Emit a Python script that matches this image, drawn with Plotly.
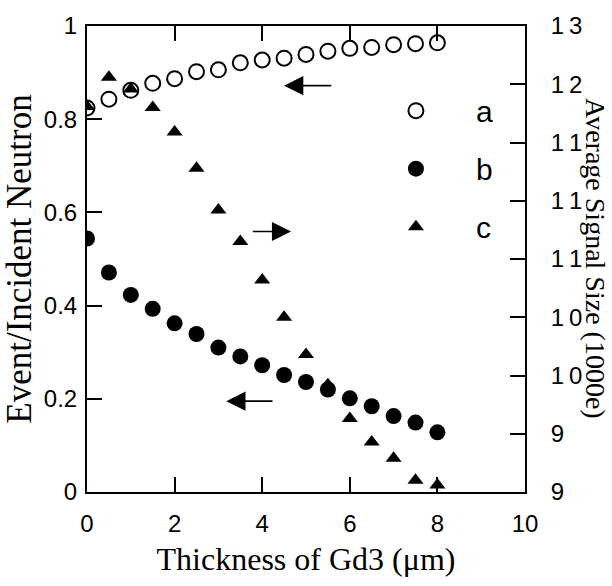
import plotly.graph_objects as go

# Film thickness (um), shared by all three series
thickness = [0, 0.5, 1, 1.5, 2, 2.5, 3, 3.5, 4, 4.5, 5, 5.5, 6, 6.5, 7, 7.5, 8]

# a: event / incident neutron (left axis)
series_a = [0.824, 0.843, 0.862, 0.877, 0.887, 0.902, 0.906, 0.921, 0.927,
            0.931, 0.939, 0.946, 0.952, 0.954, 0.960, 0.962, 0.964]
# b: event / incident neutron (left axis)
series_b = [0.544, 0.471, 0.423, 0.393, 0.362, 0.339, 0.310, 0.291, 0.272,
            0.251, 0.236, 0.220, 0.201, 0.184, 0.163, 0.149, 0.128]
# c: average signal size, 1000e (right axis)
series_c = [12.31, 12.56, 12.46, 12.30, 12.09, 11.78, 11.42, 11.15, 10.82,
            10.50, 10.18, 9.92, 9.63, 9.43, 9.29, 9.10, 9.06]

x_ticks = [0, 2, 4, 6, 8, 10]
left_ticks = [0, 0.2, 0.4, 0.6, 0.8, 1]
left_labels = ["0", "0.2", "0.4", "0.6", "0.8", "1"]
right_ticks = [9, 9.5, 10, 10.5, 11, 11.5, 12, 12.5, 13]
right_labels = ["9", "9", "1\u20090", "1\u20090", "1\u20091", "1\u20091", "1\u20091", "1\u20092", "1\u20093"]

sans = "Liberation Sans, Arial, sans-serif"
serif = "Liberation Serif, Times New Roman, serif"

fig = go.Figure()
fig.add_trace(go.Scatter(
    x=thickness, y=series_a, mode="markers", name="a", legendgroup="a",
    marker=dict(symbol="circle-open", size=15, color="black", line=dict(width=2)),
))
fig.add_trace(go.Scatter(
    x=thickness, y=series_b, mode="markers", name="b", legendgroup="b",
    marker=dict(symbol="circle", size=16, color="black"),
))
fig.add_trace(go.Scatter(
    x=thickness, y=series_c, mode="markers", name="c", legendgroup="c", yaxis="y2",
    marker=dict(symbol="triangle-up", size=14, color="black"),
))

axis_common = dict(showgrid=False, zeroline=False, showline=True, linecolor="black",
                   linewidth=2, ticks="inside", ticklen=15, tickwidth=1.5,
                   tickcolor="black", tickfont=dict(family=sans, size=24, color="black"))

fig.update_layout(
    width=612, height=586,
    margin=dict(l=85, r=87, t=15, b=94),
    paper_bgcolor="white", plot_bgcolor="white",
    xaxis=dict(range=[0, 10], tickvals=x_ticks, ticktext=[str(v) for v in x_ticks],
               mirror="ticks", ticklabelstandoff=9,
               title=dict(text="Thickness of Gd3 (\u03bcm)", font=dict(family=serif, size=32, color="black"),
                          standoff=12),
               **axis_common),
    yaxis=dict(range=[0, 1], tickvals=left_ticks, ticktext=left_labels, mirror=False,
               ticklabelstandoff=3,
               title=dict(text="Event/Incident Neutron", font=dict(family=serif, size=35, color="black"),
                          standoff=7),
               **axis_common),
    yaxis2=dict(range=[9, 13], tickvals=right_ticks, ticktext=right_labels, overlaying="y",
                side="right", ticklabelstandoff=19, **axis_common),
    showlegend=True,
    legend=dict(x=0.614, y=0.874, xanchor="left", yanchor="top", bgcolor="rgba(0,0,0,0)",
                font=dict(family=sans, size=30, color="black"), itemwidth=110,
                tracegroupgap=16),
)

# Right-axis title reads top to bottom
fig.add_annotation(text="Average Signal Size (1000e)", xref="paper", yref="paper",
                   x=1.162, y=0.5, xanchor="center", yanchor="middle", textangle=90,
                   showarrow=False, font=dict(family=serif, size=28, color="black"))

# Arrows pointing each series to its axis
arrow = dict(xref="x", yref="y", axref="x", ayref="y", text="", showarrow=True,
             arrowhead=2, arrowsize=2.4, arrowwidth=1.6, arrowcolor="black")
fig.add_annotation(x=4.5, y=0.872, ax=5.61, ay=0.872, **arrow)
fig.add_annotation(x=4.66, y=0.559, ax=3.75, ay=0.559, **arrow)
fig.add_annotation(x=3.18, y=0.195, ax=4.27, ay=0.195, **arrow)

fig.write_html("out.html")
